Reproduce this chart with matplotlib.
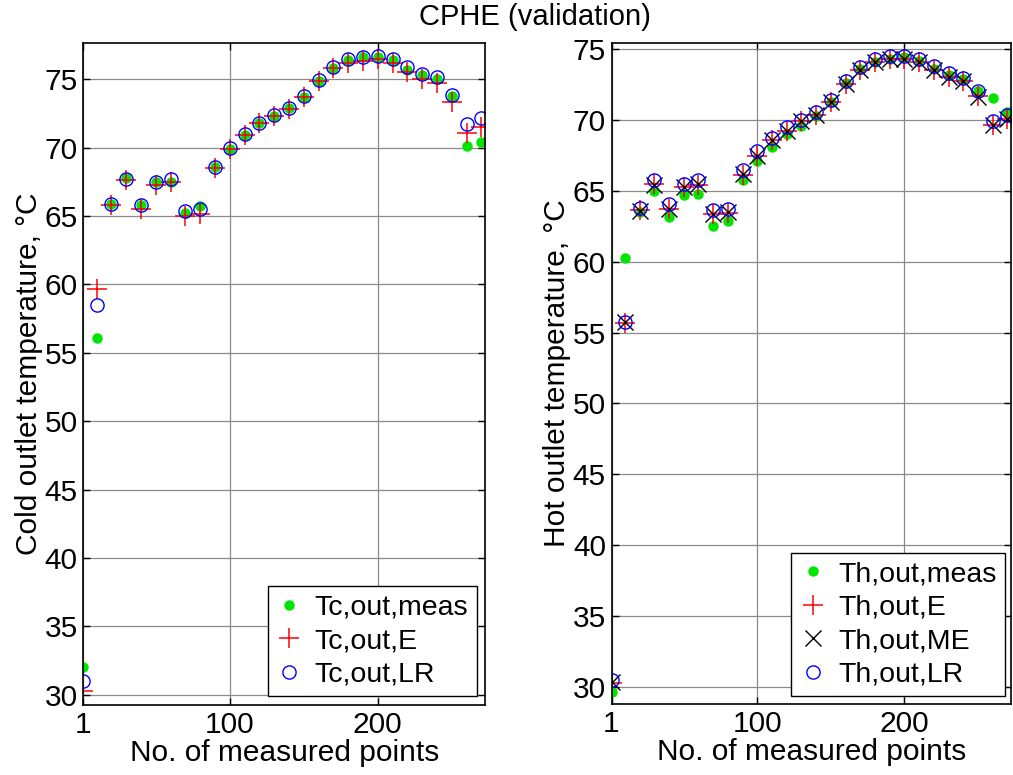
import matplotlib
matplotlib.use("Agg")
import matplotlib.pyplot as plt

plt.rcParams['font.family'] = ['Liberation Sans', 'DejaVu Sans']
plt.rcParams['font.size'] = 21

# Measurement point numbers
points = [1, 10, 20, 30, 40, 50, 60, 70, 80, 90, 100, 110, 120, 130, 140,
          150, 160, 170, 180, 190, 200, 210, 220, 230, 240, 250, 260, 270]

# Cold side outlet temperature, °C
tc_meas = [32.0, 56.1, 65.9, 67.8, 65.8, 67.5, 67.5, 65.2, 65.7, 68.6, 69.9,
           70.9, 71.8, 72.3, 72.9, 73.7, 74.9, 75.8, 76.4, 76.6, 76.6, 76.4,
           75.7, 75.3, 75.0, 73.8, 70.1, 70.4]
tc_e = [30.3, 59.7, 65.8, 67.6, 65.5, 67.3, 67.5, 65.0, 65.15, 68.5, 69.9,
        70.9, 71.8, 72.3, 72.85, 73.7, 74.9, 75.8, 76.2, 76.3, 76.45, 76.2,
        75.55, 75.05, 74.7, 73.35, 71.05, 71.5]
tc_lr = [31.0, 58.5, 65.85, 67.7, 65.8, 67.5, 67.7, 65.35, 65.5, 68.6, 69.95,
         71.0, 71.8, 72.4, 72.9, 73.8, 74.95, 75.9, 76.5, 76.65, 76.7, 76.5,
         75.9, 75.4, 75.2, 73.85, 71.7, 72.15]

# Hot side outlet temperature, °C
th_meas = [29.6, 60.3, 63.55, 65.0, 63.15, 64.75, 64.8, 62.5, 62.9, 65.8, 67.15,
           68.1, 69.05, 69.6, 70.3, 71.3, 72.6, 73.6, 74.1, 74.35, 74.45, 74.2,
           73.6, 73.2, 72.9, 72.05, 71.6, 70.6]
th_e = [30.25, 55.7, 63.65, 65.5, 63.7, 65.3, 65.45, 63.4, 63.45, 66.15, 67.5,
        68.6, 69.2, 69.95, 70.4, 71.3, 72.55, 73.55, 74.1, 74.3, 74.3, 74.1,
        73.55, 73.05, 72.8, 71.7, 69.65, 70.1]
th_me = [30.35, 55.75, 63.6, 65.45, 63.75, 65.3, 65.5, 63.4, 63.5, 66.2, 67.5,
         68.6, 69.25, 69.95, 70.4, 71.3, 72.55, 73.55, 74.1, 74.3, 74.35, 74.1,
         73.55, 73.05, 72.8, 71.65, 69.65, 70.1]
th_lr = [30.5, 55.75, 63.8, 65.75, 64.05, 65.5, 65.75, 63.65, 63.75, 66.45, 67.8,
         68.75, 69.5, 70.0, 70.6, 71.45, 72.75, 73.75, 74.35, 74.5, 74.55, 74.3,
         73.8, 73.35, 73.0, 72.05, 69.95, 70.35]

x_ticks = [1, 100, 200]
y_ticks = [30, 35, 40, 45, 50, 55, 60, 65, 70, 75]

GREEN = '#00e600'
FS = 21.5

fig = plt.figure(figsize=(10.13, 7.75), dpi=100)
ax1 = fig.add_axes([0.0822, 0.0903, 0.3966, 0.8542])
ax2 = fig.add_axes([0.6037, 0.0912, 0.3944, 0.8537])


def style(ax, ylim, ylabel):
    ax.set_xlim(1, 272.5)
    ax.set_ylim(*ylim)
    ax.set_xticks(x_ticks)
    ax.set_yticks(y_ticks)
    ax.grid(True, color='#8a8a8a', linewidth=0.9, linestyle='-')
    ax.set_axisbelow(True)
    ax.tick_params(direction='in', length=5, width=1, top=True, right=True,
                   labelsize=FS, pad=4)
    for s in ax.spines.values():
        s.set_linewidth(1.2)
    ax.set_xlabel('No. of measured points', fontsize=FS, labelpad=0)
    ax.set_ylabel(ylabel, fontsize=FS, labelpad=1)


def add_legend(ax, anchor):
    leg = ax.legend(loc='lower right', bbox_to_anchor=anchor, borderaxespad=0,
                    fancybox=False, edgecolor='black', framealpha=1,
                    fontsize=20.5, labelspacing=0.26, handlelength=0.9,
                    handletextpad=0.45, borderpad=0.3)
    leg.get_frame().set_linewidth(1.0)


ax1.plot(points, tc_meas, linestyle='none', marker='o', ms=6.5,
         color=GREEN, mec=GREEN, label='Tc,out,meas')
ax1.plot(points, tc_e, linestyle='none', marker='+', ms=14, mew=1.1,
         color='red', label='Tc,out,E')
ax1.plot(points, tc_lr, linestyle='none', marker='o', ms=9.5, mew=1.0,
         mfc='none', mec='blue', label='Tc,out,LR')
style(ax1, (29.25, 77.65), 'Cold outlet temperature, °C')
add_legend(ax1, (0.98, 0.0136))

ax2.plot(points, th_meas, linestyle='none', marker='o', ms=6.5,
         color=GREEN, mec=GREEN, label='Th,out,meas')
ax2.plot(points, th_e, linestyle='none', marker='+', ms=14, mew=1.1,
         color='red', label='Th,out,E')
ax2.plot(points, th_me, linestyle='none', marker='x', ms=11, mew=1.0,
         color='black', label='Th,out,ME')
ax2.plot(points, th_lr, linestyle='none', marker='o', ms=9.5, mew=1.0,
         mfc='none', mec='blue', label='Th,out,LR')
style(ax2, (28.75, 75.47), 'Hot outlet temperature, °C')
add_legend(ax2, (0.985, 0.0125))

fig.text(0.528, 0.978, 'CPHE (validation)', ha='center', va='center', fontsize=21)

fig.savefig('out.png', dpi=100)
